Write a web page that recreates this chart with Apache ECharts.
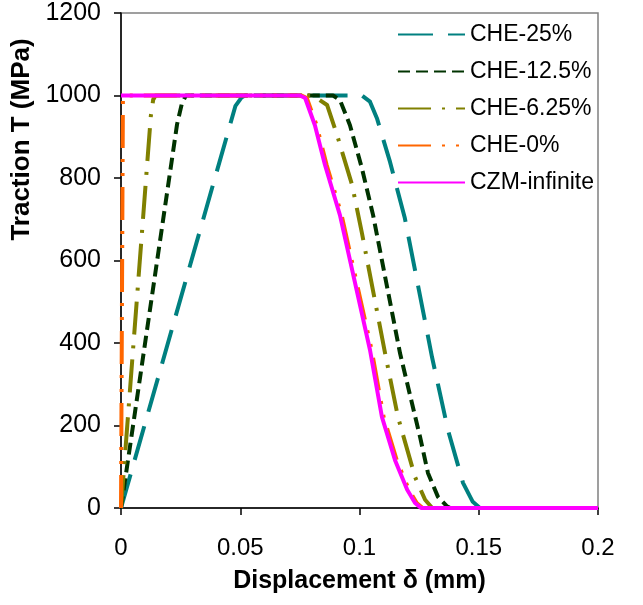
<!DOCTYPE html>
<html>
<head>
<meta charset="utf-8">
<script src="https://cdn.jsdelivr.net/npm/echarts@6/dist/echarts.min.js"></script>
<style>
  html, body { margin: 0; padding: 0; background: #fff; }
  #chart { width: 643px; height: 605px; }
</style>
</head>
<body>
<div id="chart"></div>
<script>
// ---- Data (displacement in mm, traction in MPa) ----
const seriesNames = ['CHE-25%', 'CHE-12.5%', 'CHE-6.25%', 'CHE-0%', 'CZM-infinite'];

const che25_d = [0, 0.048, 0.0505, 0.052, 0.101, 0.1044, 0.1073, 0.1128, 0.119, 0.1304, 0.1371, 0.1434, 0.1475, 0.1505, 0.2];
const che25_t = [0, 975, 995, 1000, 1000, 985, 945, 839, 703, 366, 189, 61, 15, 0, 0];

const che125_d = [0, 0.0235, 0.0255, 0.0272, 0.0889, 0.0918, 0.096, 0.101, 0.1057, 0.117, 0.1254, 0.1287, 0.1329, 0.1365, 0.138, 0.2];
const che125_t = [0, 930, 980, 1000, 1000, 989, 928, 824, 710, 375, 172, 85, 27, 5, 0, 0];

const che625_d = [0, 0.0125, 0.0135, 0.0145, 0.0805, 0.0864, 0.0906, 0.0969, 0.101, 0.1107, 0.1161, 0.1233, 0.1275, 0.1305, 0.2];
const che625_t = [0, 950, 990, 1000, 1000, 977, 904, 783, 667, 376, 221, 75, 20, 0, 0];

const che0_d = [0, 0.0008, 0.0015, 0.0757, 0.0779, 0.082, 0.0862, 0.0925, 0.1051, 0.1101, 0.1156, 0.1207, 0.124, 0.1265, 0.2];
const che0_t = [0, 990, 1000, 1000, 994, 928, 832, 710, 383, 221, 116, 44, 12, 0, 0];

const czm_d = [0, 0.075, 0.0772, 0.0813, 0.0855, 0.0918, 0.1044, 0.1094, 0.1149, 0.12, 0.1233, 0.1258, 0.2];
const czm_t = [1000, 1000, 994, 928, 832, 710, 383, 221, 116, 44, 12, 0, 0];

const xTicks = [0, 0.05, 0.1, 0.15, 0.2];
const yTicks = [0, 200, 400, 600, 800, 1000, 1200];

const colors = ['#008080', '#003300', '#808000', '#FF6600', '#FF00FF'];
const dashes = [[35, 15], [12, 6], [33, 11, 3, 11], [33, 11, 3, 11, 3, 11], 'solid'];

function pairs(xs, ys) { return xs.map((x, i) => [x, ys[i]]); }
const allData = [
  pairs(che25_d, che25_t),
  pairs(che125_d, che125_t),
  pairs(che625_d, che625_t),
  pairs(che0_d, che0_t),
  pairs(czm_d, czm_t)
];

const chart = echarts.init(document.getElementById('chart'), null, { renderer: 'canvas' });
const fontFam = '"Liberation Sans", Arial, sans-serif';

chart.setOption({
  animation: false,
  backgroundColor: '#ffffff',
  grid: {
    left: 121, right: 45, top: 13, bottom: 97,
    show: true, borderColor: '#808080', borderWidth: 1.5, backgroundColor: 'transparent'
  },
  legend: {
    orient: 'vertical',
    left: 392, top: 18,
    itemWidth: 67, itemHeight: 14, itemGap: 14,
    data: seriesNames,
    textStyle: { fontFamily: fontFam, fontSize: 23, color: '#000' },
    itemStyle: { color: 'transparent', borderColor: 'transparent', borderWidth: 0, opacity: 0 },
    selectedMode: false
  },
  xAxis: {
    type: 'value', min: xTicks[0], max: xTicks[xTicks.length - 1], interval: 0.05,
    name: 'Displacement δ (mm)', nameLocation: 'middle', nameGap: 61,
    nameTextStyle: { fontFamily: fontFam, fontSize: 25, fontWeight: 'bold', color: '#000' },
    axisLine: { onZero: false, lineStyle: { color: '#000', width: 1.5 } },
    axisTick: { show: true, inside: false, length: 7, lineStyle: { color: '#000', width: 1.5 } },
    axisLabel: { fontFamily: fontFam, fontSize: 24, color: '#000', margin: 28 },
    splitLine: { show: false }
  },
  yAxis: {
    type: 'value', min: yTicks[0], max: yTicks[yTicks.length - 1], interval: 200,
    name: 'Traction T (MPa)', nameLocation: 'middle', nameGap: 74, nameRotate: 90,
    nameTextStyle: { fontFamily: fontFam, fontSize: 26, fontWeight: 'bold', color: '#000', padding: [0, 0, 0, 242] },
    axisLine: { onZero: false, lineStyle: { color: '#000', width: 1.5 } },
    axisTick: { show: true, inside: false, length: 7, lineStyle: { color: '#000', width: 1.5 } },
    axisLabel: { fontFamily: fontFam, fontSize: 25, color: '#000', margin: 20, formatter: v => String(v) },
    splitLine: { show: false }
  },
  series: seriesNames.map((name, i) => ({
    name: name,
    type: 'line',
    data: allData[i],
    symbol: 'none',
    showSymbol: false,
    smooth: false,
    clip: true,
    color: colors[i],
    lineStyle: { color: colors[i], width: 4, type: dashes[i], cap: 'butt', join: 'round' },
    z: 2 + i
  }))
});
</script>
</body>
</html>
